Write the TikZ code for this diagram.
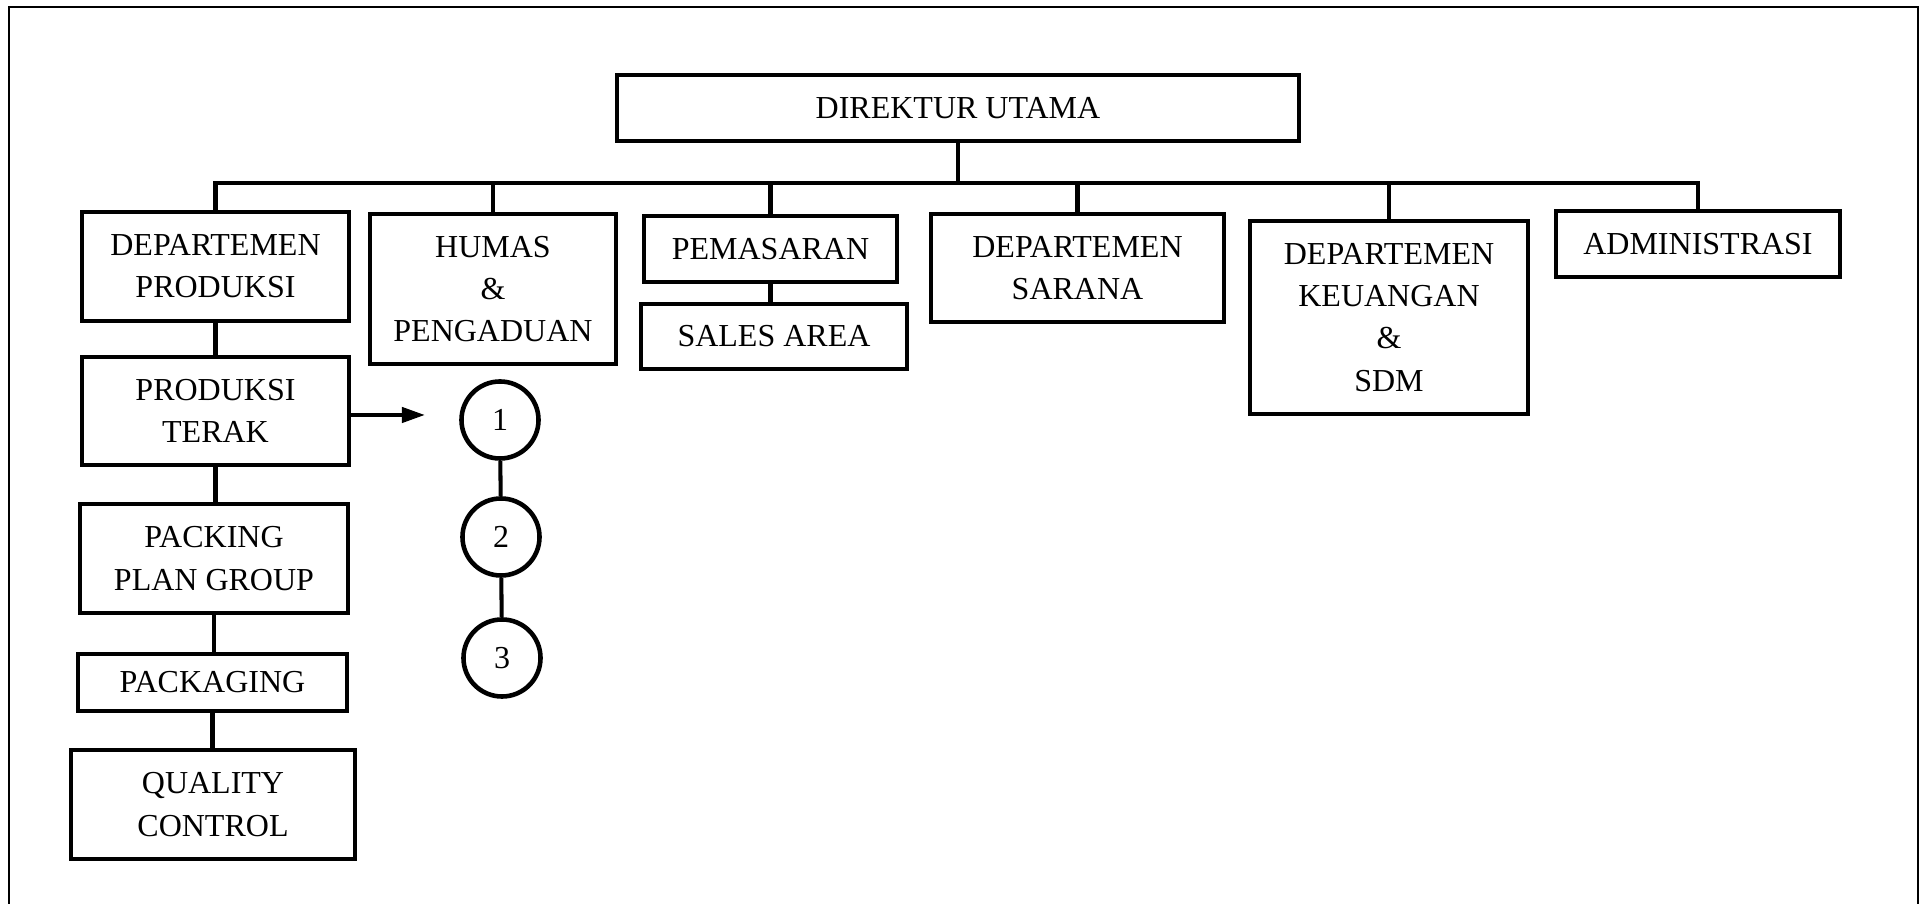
\documentclass[tikz,border=0pt]{standalone}
\usepackage{fontspec}
\setmainfont{Liberation Serif}
\usetikzlibrary{positioning,arrows.meta}

\tikzset{
  orgbox/.style={draw, line width=1.3pt, align=center, inner sep=0pt, font=\fontsize{9.1}{12}\selectfont},
  pagecirc/.style={draw, circle, line width=1.3pt, minimum size=0.77cm, inner sep=0pt, font=\fontsize{9.1}{12}\selectfont},
  conn/.style={line width=1.15pt}
}

\begin{document}
\begin{tikzpicture}[x=0.01cm,y=-0.01cm]

\useasboundingbox (0,0) rectangle (1926,904);
\draw[line width=0.6pt] (9,904) -- (9,7) -- (1918,7) -- (1918,904);

% top level
\node[orgbox, minimum width=6.82cm, minimum height=0.66cm] (dirut) at (958,108) {DIREKTUR UTAMA};

\node[orgbox, minimum width=2.67cm, minimum height=1.09cm] (produksi) at (215.5,266.5) {DEPARTEMEN\\PRODUKSI};
\node[orgbox, minimum width=2.46cm, minimum height=1.50cm] (humas) at (493,289) {HUMAS\\\&\\PENGADUAN};
\node[orgbox, minimum width=2.53cm, minimum height=0.66cm] (pemasaran) at (770.5,249) {PEMASARAN};
\node[orgbox, minimum width=2.66cm, minimum height=0.65cm] (sales) at (774,336.5) {SALES AREA};
\node[orgbox, minimum width=2.93cm, minimum height=1.08cm] (sarana) at (1077.5,268) {DEPARTEMEN\\SARANA};
\node[orgbox, minimum width=2.78cm, minimum height=1.93cm] (keuangan) at (1389,317.5) {DEPARTEMEN\\KEUANGAN\\\&\\SDM};
\node[orgbox, minimum width=2.84cm, minimum height=0.66cm] (admin) at (1698,244) {ADMINISTRASI};

% produksi column
\node[orgbox, minimum width=2.67cm, minimum height=1.08cm] (terak) at (215.5,411) {PRODUKSI\\TERAK};
\node[orgbox, minimum width=2.68cm, minimum height=1.09cm] (packing) at (214,558.5) {PACKING\\PLAN GROUP};
\node[orgbox, minimum width=2.69cm, minimum height=0.57cm] (packaging) at (212.5,682.5) {PACKAGING};
\node[orgbox, minimum width=2.84cm, minimum height=1.09cm] (qc) at (213,804.5) {QUALITY\\CONTROL};

\node[pagecirc] (c1) at (500,420) {1};
\node[pagecirc] (c2) at (501,537) {2};
\node[pagecirc] (c3) at (502,658) {3};

\coordinate (bus) at (958,183);
\coordinate (arrtip) at (425,415);

\draw[conn] (dirut.south) -- (dirut.south |- bus);
\draw[conn] (produksi.north) -- (produksi.north |- bus) -| (admin.north);
\foreach \n in {humas,pemasaran,sarana,keuangan}
  \draw[conn] (\n.north) -- (\n.north |- bus);

\draw[conn] (pemasaran.south) -- (pemasaran.south |- sales.north);

\foreach \a/\b in {produksi/terak,terak/packing,packing/packaging,packaging/qc}
  \draw[conn] (\a.south) -- (\a.south |- \b.north);

\draw[conn,-{Triangle[length=0.23cm,width=0.15cm]}] (terak.east |- arrtip) -- (arrtip);
\draw[conn] (c1) -- (c2);
\draw[conn] (c2) -- (c3);

\end{tikzpicture}
\end{document}
